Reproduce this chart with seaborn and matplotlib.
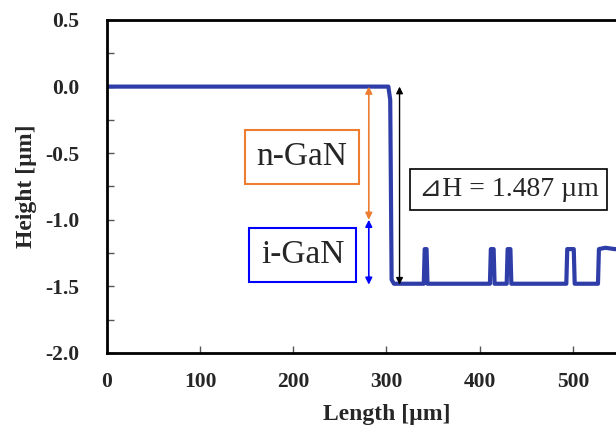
import pandas as pd
import matplotlib
matplotlib.use("Agg")
import matplotlib.pyplot as plt
import seaborn as sns

length_um = [0, 60, 140, 200, 260, 302, 304, 305.5, 308, 340, 341, 343, 344,
             411, 412, 415, 416, 429, 430, 433, 434, 493, 494, 501, 502,
             527, 528, 535, 545, 560]
height_um = [0.0, 0.0, 0.0, 0.0, 0.0, 0.0, -0.1, -1.45, -1.48, -1.48, -1.22, -1.22, -1.48,
             -1.48, -1.22, -1.22, -1.48, -1.48, -1.22, -1.22, -1.48, -1.48, -1.22, -1.22, -1.48,
             -1.48, -1.22, -1.21, -1.22, -1.22]

step_height = 1.487
ngan_bottom = -1.0

df = pd.DataFrame({'length': length_um, 'height': height_um})

sns.set_style('ticks')
plt.rcParams['font.family'] = ['Liberation Serif', 'DejaVu Serif', 'DejaVu Sans']

fig = plt.figure(figsize=(6.16, 4.37), dpi=100)
# eixo se estende além da borda direita, como no original
ax = fig.add_axes([107 / 616, 1 - 353 / 437, 559 / 616, 333 / 437])

sns.lineplot(data=df, x='length', y='height', estimator=None, sort=False,
             color='#2E3DA8', linewidth=3.0, ax=ax)

ax.set_xlim(0, 600)
ax.set_ylim(-2.0, 0.5)
ax.set_xticks([0, 100, 200, 300, 400, 500])
ax.set_yticks([0.5, 0.0, -0.5, -1.0, -1.5, -2.0])
ax.set_yticklabels(['0.5', '0.0', '-0.5', '-1.0', '-1.5', '-2.0'])
ax.set_yticks([0.25, -0.25, -0.75, -1.25, -1.75], minor=True)
ax.tick_params(axis='both', which='both', direction='in', width=1.0, color='#555555')
ax.tick_params(axis='both', which='major', length=5, labelsize=15.5)
ax.tick_params(axis='both', which='minor', length=5)
ax.tick_params(axis='y', pad=20)
ax.tick_params(axis='x', pad=14)
for lab in ax.get_xticklabels() + ax.get_yticklabels():
    lab.set_fontweight('bold')

for s in ['left', 'bottom', 'top', 'right']:
    ax.spines[s].set_linewidth(2.0)
    ax.spines[s].set_color('black')

ax.set_xlabel('Length [µm]', fontsize=17, fontweight='bold', labelpad=8)
ax.set_ylabel('Height [µm]', fontsize=17, fontweight='bold', labelpad=6)

# setas de espessura
ax.annotate('', xy=(281, 0.0), xytext=(281, ngan_bottom),
            arrowprops=dict(arrowstyle='<|-|>', color='#ED7D31', lw=1.2,
                            mutation_scale=10, shrinkA=0, shrinkB=0))
ax.annotate('', xy=(281, ngan_bottom), xytext=(281, -step_height),
            arrowprops=dict(arrowstyle='<|-|>', color='#0000FF', lw=1.2,
                            mutation_scale=10, shrinkA=0, shrinkB=0))
ax.annotate('', xy=(314, 0.0), xytext=(314, -step_height),
            arrowprops=dict(arrowstyle='<|-|>', color='black', lw=1.0,
                            mutation_scale=10, shrinkA=0, shrinkB=0))

ax.text(209, -0.53, 'n-GaN', fontsize=24, ha='center', va='center',
        bbox=dict(boxstyle='square,pad=0.35', fc='white', ec='#ED7D31', lw=1.5))
ax.text(210, -1.265, 'i-GaN', fontsize=24, ha='center', va='center',
        bbox=dict(boxstyle='square,pad=0.35', fc='white', ec='#0000FF', lw=1.5))
ax.text(431, -0.773, '⊿H = {} µm'.format(step_height), fontsize=20, ha='center', va='center',
        bbox=dict(boxstyle='square,pad=0.3', fc='white', ec='black', lw=1.2))

fig.savefig('out.png', dpi=100)
